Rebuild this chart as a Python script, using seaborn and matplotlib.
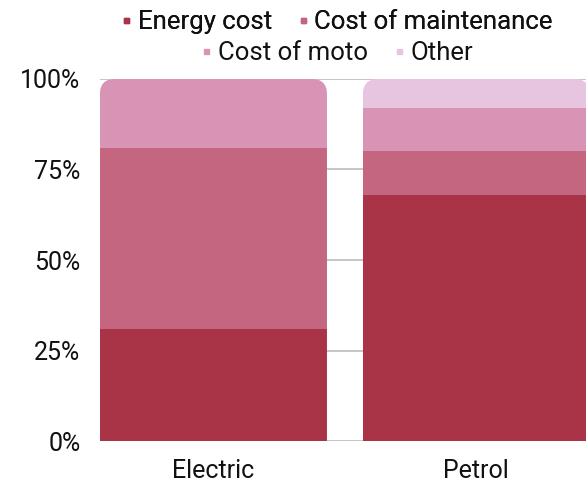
import numpy as np
import pandas as pd
import matplotlib
matplotlib.use("Agg")
import matplotlib.pyplot as plt
import seaborn as sns
from matplotlib.patches import FancyBboxPatch
from matplotlib.lines import Line2D
from matplotlib.ticker import PercentFormatter

# Cost shares (%) per vehicle type
vehicles = ["Electric", "Petrol"]
components = ["Energy cost", "Cost of maintenance", "Cost of moto", "Other"]
energy_cost = [31, 68]
maintenance_cost = [50, 12]
moto_cost = [19, 12]
other_cost = [0, 8]
palette = ["#A93448", "#C4667F", "#D794B5", "#E7C5E0"]
y_ticks = [0, 25, 50, 75, 100]

sns.set_theme(style="white")
plt.rcParams["font.family"] = ["Roboto", "DejaVu Sans"]

shares = pd.DataFrame(
    {"Energy cost": energy_cost, "Cost of maintenance": maintenance_cost,
     "Cost of moto": moto_cost, "Other": other_cost},
    index=vehicles,
)
cumulative = shares[components].cumsum(axis=1)

fig = plt.figure(figsize=(5.86, 4.86), dpi=100)
ax = fig.add_axes([100 / 586, 45 / 486, 496 / 586, 362 / 486])

bar_width = 0.863
# Draw from the top of the stack down so each lower layer covers the one above
for comp, color in reversed(list(zip(components, palette))):
    frame = pd.DataFrame({"vehicle": vehicles, "value": cumulative[comp].values})
    sns.barplot(data=frame, x="vehicle", y="value", color=color, width=bar_width,
                saturation=1, ax=ax, zorder=3, linewidth=0)

ax.set_xlim(-0.5 * bar_width, 1.455)
ax.set_ylim(0, 100)

# Round the top corners of each stacked column
aspect = (263 / 1.0) / (362 / 100.0)
for i, name in enumerate(vehicles):
    clip = FancyBboxPatch((i - bar_width / 2, -30), bar_width, 130,
                          boxstyle="round,pad=0,rounding_size=0.058",
                          mutation_aspect=aspect, transform=ax.transData,
                          facecolor="none", edgecolor="none")
    for patch in ax.patches:
        if isinstance(patch, FancyBboxPatch):
            continue
        cx = patch.get_x() + patch.get_width() / 2
        if abs(cx - i) < 0.01:
            patch.set_clip_path(clip)

ax.set_yticks(y_ticks)
ax.yaxis.set_major_formatter(PercentFormatter(100, decimals=0))
ax.grid(axis="y", color="#c0c0c0", linewidth=1.3, zorder=0)
ax.set_axisbelow(True)
for s in ax.spines.values():
    s.set_visible(False)
ax.set_xlabel("")
ax.set_ylabel("")
ax.tick_params(axis="y", length=0, pad=14, labelsize=18, labelcolor="#111111")
ax.tick_params(axis="x", length=0, pad=13, labelsize=18, labelcolor="#111111")

def marker(color):
    return Line2D([], [], linestyle="none", marker="s", markersize=3.6,
                  markerfacecolor=color, markeredgecolor=color)

leg_kw = dict(frameon=False, fontsize=18.5, handlelength=0.4, handletextpad=0.25,
              columnspacing=1.0, borderaxespad=0, borderpad=0, ncol=2,
              loc="center", labelcolor="#111111")
leg1 = fig.legend([marker(palette[0]), marker(palette[1])], components[:2],
                  bbox_to_anchor=(337 / 586, 1 - 22 / 486), **leg_kw)
fig.add_artist(leg1)
fig.legend([marker(palette[2]), marker(palette[3])], components[2:],
           bbox_to_anchor=(337 / 586, 1 - 53 / 486), **leg_kw)

fig.savefig("out.png", dpi=100)
